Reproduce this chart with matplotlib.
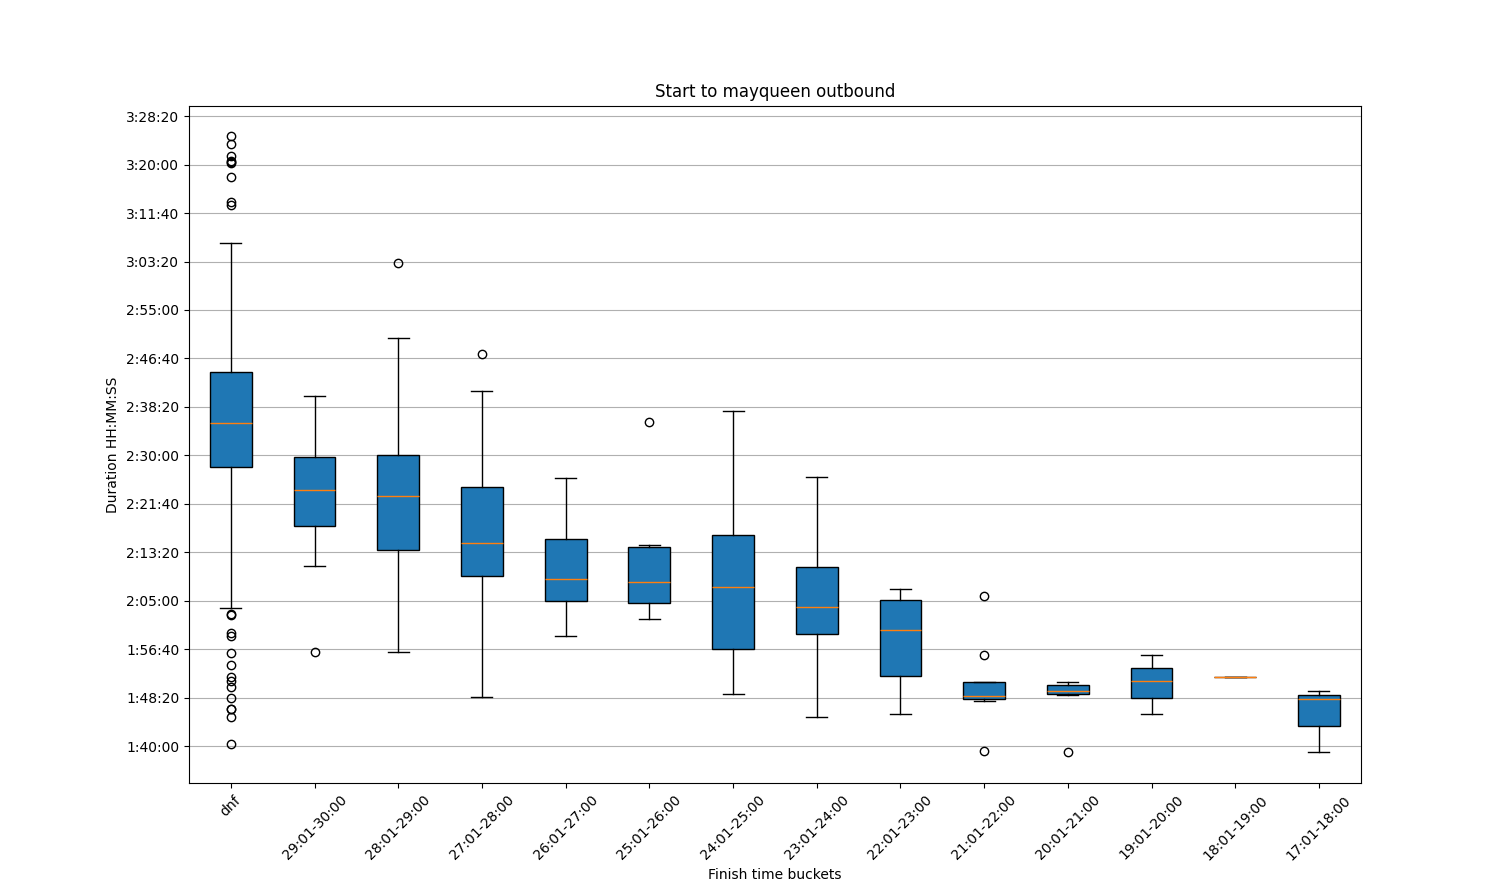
import datetime

import matplotlib
matplotlib.use("Agg")
import matplotlib.pyplot as plt
from matplotlib.ticker import FuncFormatter, MultipleLocator

# durations in seconds
buckets = [
    "dnf", "29:01-30:00", "28:01-29:00", "27:01-28:00", "26:01-27:00",
    "25:01-26:00", "24:01-25:00", "23:01-24:00", "22:01-23:00",
    "21:01-22:00", "20:01-21:00", "19:01-20:00", "18:01-19:00", "17:01-18:00",
]
whislo = [7421, 7854, 6967, 6502, 7135, 7307, 6533, 6296, 6330, 6464, 6530, 6327, 6709, 5935]
q1 = [8879, 8270, 8019, 7751, 7493, 7472, 7001, 7152, 6722, 6485, 6533, 6495, 6709, 6203]
medians = [9333, 8638, 8576, 8091, 7720, 7689, 7637, 7431, 7197, 6513, 6564, 6671, 6709, 6485]
q3 = [9859, 8979, 9006, 8669, 8139, 8050, 8174, 7844, 7503, 6657, 6626, 6802, 6709, 6526]
whishi = [11190, 9611, 10207, 9660, 8762, 8071, 9453, 8772, 7617, 6660, 6657, 6936, 6709, 6564]
fliers = [
    [12291, 12208, 12091, 12036, 12023, 12020, 11868, 11616, 11582,
     7362, 7355, 7169, 7135, 6956, 6833, 6709, 6674, 6612, 6492, 6385, 6379, 6296, 6018],
    [6967],
    [10981],
    [10042],
    [],
    [9340],
    [],
    [],
    [],
    [7545, 6936, 5945],
    [5935],
    [],
    [],
    [],
]


def fmt_duration(x, pos):
    return str(datetime.timedelta(seconds=int(round(x))))


stats = []
for i, label in enumerate(buckets):
    stats.append({
        "label": label,
        "whislo": whislo[i],
        "q1": q1[i],
        "med": medians[i],
        "q3": q3[i],
        "whishi": whishi[i],
        "fliers": fliers[i],
    })

fig, ax = plt.subplots(figsize=(15.12, 8.8), dpi=100)
ax.bxp(stats, patch_artist=True)
ax.yaxis.set_major_locator(MultipleLocator(500))
ax.yaxis.set_major_formatter(FuncFormatter(fmt_duration))
ax.grid(axis="y")
ax.set_axisbelow(True)
plt.setp(ax.get_xticklabels(), rotation=45)
ax.set_title("Start to mayqueen outbound")
ax.set_xlabel("Finish time buckets")
ax.set_ylabel("Duration HH:MM:SS")

fig.savefig("out.png")
